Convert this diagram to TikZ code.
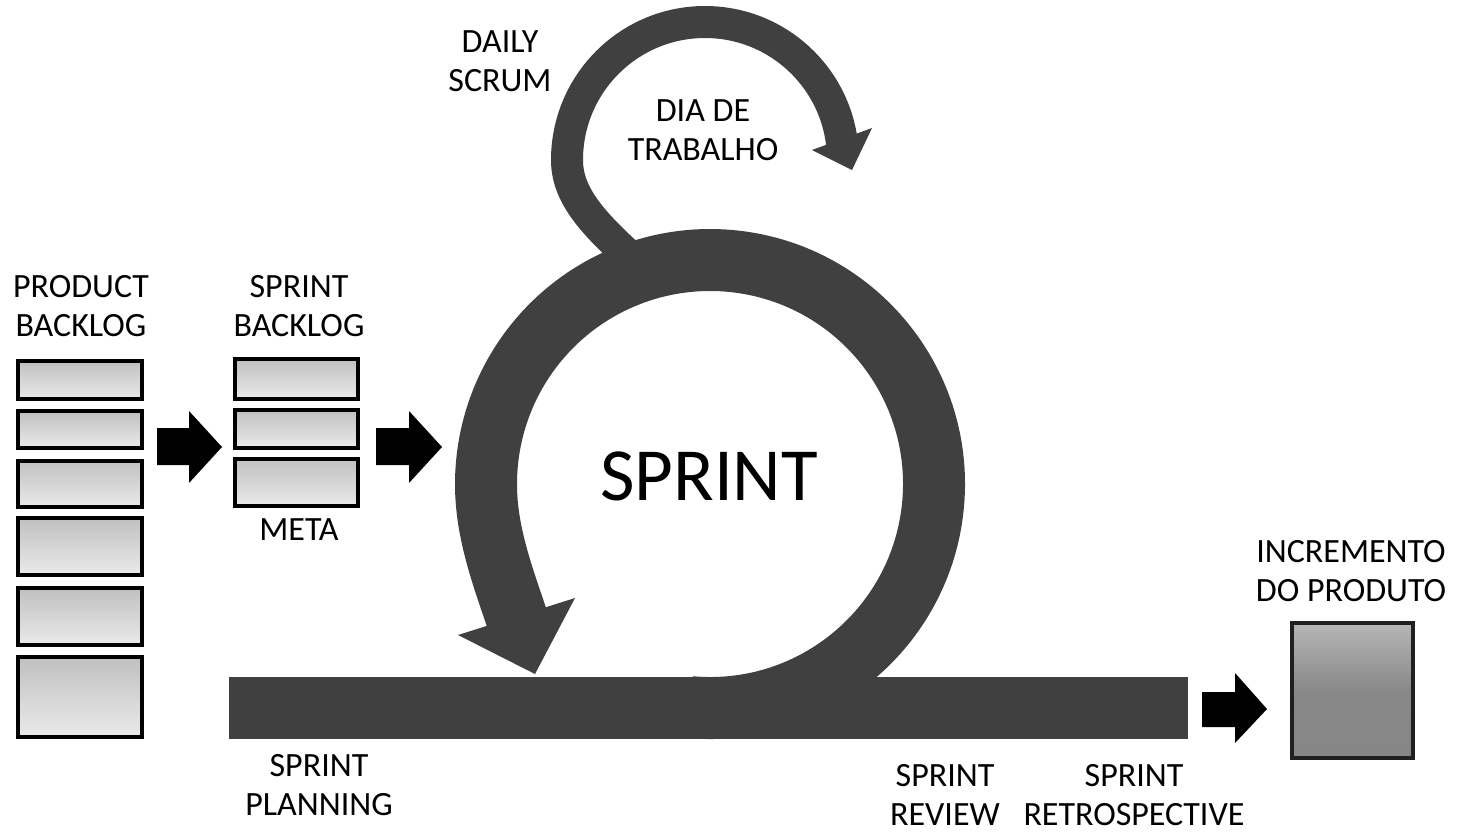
\documentclass[tikz,border=0pt]{standalone}
\usepackage{fontspec}
\setmainfont{Carlito}
\usetikzlibrary{calc}
\definecolor{dk}{RGB}{64,64,64}
\definecolor{boxtop}{RGB}{192,192,192}
\definecolor{boxbot}{RGB}{234,234,234}
\definecolor{inctop}{RGB}{182,182,182}
\definecolor{incbot}{RGB}{134,134,134}
\begin{document}
\begin{tikzpicture}[x=0.02cm,y=-0.02cm,
  lbl/.style={font=\fontsize{19.35}{22.2}\selectfont, align=center, inner sep=0pt, anchor=base, text=black},
  bigl/.style={font=\fontsize{42.7}{50}\selectfont, inner sep=0pt, anchor=base, text=black},
  bbox/.style={draw=black, line width=0.08cm, top color=boxtop, bottom color=boxbot, inner sep=0pt, outer sep=0pt},
  incbox/.style={draw={rgb,255:red,32;green,32;blue,32}, line width=0.08cm, top color=inctop, bottom color=incbot, middle color=incbot!95!inctop, inner sep=0pt, outer sep=0pt},
  ringline/.style={draw=dk, line width=1.24cm},
  loopline/.style={draw=dk, line width=0.64cm},
  blockarrow/.style={fill=black}]
\useasboundingbox (0,0) rectangle (1460,833);

% product backlog
\node[bbox, minimum width=2.48cm, minimum height=0.76cm] (pb1) at (80,380) {};
\node[bbox, minimum width=2.48cm, minimum height=0.74cm] (pb2) at (80,429.5) {};
\node[bbox, minimum width=2.48cm, minimum height=0.92cm] (pb3) at (80,484) {};
\node[bbox, minimum width=2.48cm, minimum height=1.14cm] (pb4) at (80,546.5) {};
\node[bbox, minimum width=2.48cm, minimum height=1.14cm] (pb5) at (80,616.5) {};
\node[bbox, minimum width=2.48cm, minimum height=1.60cm] (pb6) at (80,697) {};
% sprint backlog
\node[bbox, minimum width=2.46cm, minimum height=0.80cm] (sb1) at (296.5,379) {};
\node[bbox, minimum width=2.46cm, minimum height=0.76cm] (sb2) at (296.5,429) {};
\node[bbox, minimum width=2.46cm, minimum height=0.94cm] (sb3) at (296.5,482.5) {};
% increment
\node[incbox, minimum width=2.42cm, minimum height=2.70cm] (inc) at (1352.5,690.5) {};

% block arrows
\fill[blockarrow] (157,428) -- (189,428) -- (189,411) -- (222,447) -- (189,483) -- (189,465) -- (157,465) -- cycle;
\fill[blockarrow] (376,428) -- (409,428) -- (409,411) -- (442,447) -- (409,483) -- (409,465) -- (376,465) -- cycle;
\fill[blockarrow] (1202,692) -- (1235,692) -- (1235,673) -- (1267,709) -- (1235,743) -- (1235,727) -- (1202,727) -- cycle;

% sprint bar
\node[fill=dk, minimum width=19.18cm, minimum height=1.24cm, inner sep=0pt, outer sep=0pt] (bar) at (708.5,708) {};

% big sprint ring
\coordinate (C) at (710,484);
\draw[ringline] ($(C)+(95:224)$) arc[start angle=95, end angle=-185, radius=224]
  .. controls +(3.9,44.8) and +(-9,-28.5) .. (518,622);
\fill[dk] (458,635) -- (575,598) -- (535,674) -- cycle;

% daily scrum loop
\coordinate (D) at (705,160);
\draw[loopline] (650,275) .. controls (600,230) and (567,200) .. (567,160)
  arc[start angle=180, end angle=355, radius=138];
\fill[dk] (812,150) -- (872,128) -- (852,170) -- cycle;

% labels
\node[lbl] (pbl) at (81,336) {PRODUCT\\BACKLOG};
\node[lbl] (sbl) at (299,336) {SPRINT\\BACKLOG};
\node[lbl] (meta) at (299,540) {META};
\node[lbl] (daily) at (500,91) {DAILY\\SCRUM};
\node[lbl] (dia) at (703,160) {DIA DE\\TRABALHO};
\node[bigl] (sprint) at (709,500) {SPRINT};
\node[lbl] (plan) at (319,815) {SPRINT\\PLANNING};
\node[lbl] (review) at (945,825) {SPRINT\\REVIEW};
\node[lbl] (retro) at (1134,825) {SPRINT\\RETROSPECTIVE};
\node[lbl] (incl) at (1351,601) {INCREMENTO\\DO PRODUTO};
\end{tikzpicture}
\end{document}
